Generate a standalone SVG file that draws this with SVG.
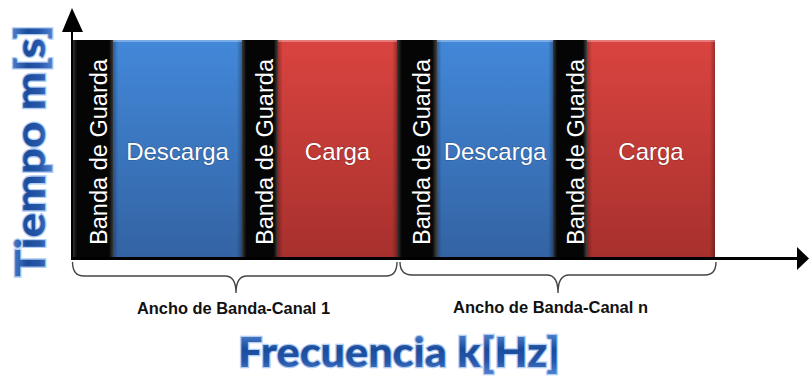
<svg xmlns="http://www.w3.org/2000/svg" width="809" height="377" viewBox="0 0 809 377">
<defs>
  <linearGradient id="gBlue" x1="0" y1="0" x2="0" y2="1">
    <stop offset="0" stop-color="#4288d9"/>
    <stop offset="1" stop-color="#3363a3"/>
  </linearGradient>
  <linearGradient id="gRed" x1="0" y1="0" x2="0" y2="1">
    <stop offset="0" stop-color="#da4440"/>
    <stop offset="1" stop-color="#a7302d"/>
  </linearGradient>
  <linearGradient id="gBlack" x1="0" y1="0" x2="1" y2="0">
    <stop offset="0" stop-color="#3a3a3a"/>
    <stop offset="0.12" stop-color="#050505"/>
    <stop offset="0.88" stop-color="#050505"/>
    <stop offset="1" stop-color="#444"/>
  </linearGradient>
  <linearGradient id="gEdge" x1="0" y1="0" x2="1" y2="0">
    <stop offset="0" stop-color="#000" stop-opacity="0.3"/>
    <stop offset="0.04" stop-color="#000" stop-opacity="0"/>
    <stop offset="0.96" stop-color="#000" stop-opacity="0"/>
    <stop offset="1" stop-color="#000" stop-opacity="0.3"/>
  </linearGradient>
  <linearGradient id="gTitle" x1="0" y1="0" x2="0" y2="1">
    <stop offset="0" stop-color="#6396de"/>
    <stop offset="0.45" stop-color="#1b4c9c"/>
    <stop offset="0.7" stop-color="#2556a8"/>
    <stop offset="1" stop-color="#5588d6"/>
  </linearGradient>
</defs>
<style>
  .blue { fill: url(#gBlue); }
  .red { fill: url(#gRed); }
  .black { fill: url(#gBlack); }
  .edge { fill: url(#gEdge); }
  .hl { fill: #ffffff; fill-opacity: 0.3; }
  .lbl { font-family: "Liberation Sans", Arial, sans-serif; font-size: 24px; fill: #ffffff; text-anchor: middle; stroke: #000; stroke-opacity: 0.25; stroke-width: 1.2px; paint-order: stroke; }
  .guard { font-family: "Liberation Sans", Arial, sans-serif; font-size: 23.5px; fill: #ffffff; text-anchor: middle; }
  .cap { font-family: "Liberation Sans", Arial, sans-serif; font-size: 16px; font-weight: bold; fill: #111; text-anchor: middle; }
  .title { font-family: Lato, "Open Sans", sans-serif; font-size: 41px; font-weight: 900; fill: url(#gTitle); stroke: #b3cdf3; stroke-width: 2.5px; paint-order: stroke; text-anchor: middle; }
  .brace { fill: none; stroke: #444; stroke-width: 1.4px; }
  .axis { stroke: #000; fill: none; }
</style>

<g id="guard1">
  <rect class="black" x="72" y="40" width="42" height="218"/>
  <text class="guard" transform="translate(107,152) rotate(-90)" textLength="186" lengthAdjust="spacingAndGlyphs">Banda de Guarda</text>
</g>
<g id="descarga1">
  <rect class="blue" x="113" y="40" width="129" height="218"/>
  <rect class="edge" x="113" y="40" width="129" height="218"/>
  <rect class="hl" x="113" y="40" width="129" height="2"/>
  <text class="lbl" x="177.5" y="160">Descarga</text>
</g>
<g id="guard2">
  <rect class="black" x="242" y="40" width="36" height="218"/>
  <text class="guard" transform="translate(273,152) rotate(-90)" textLength="186" lengthAdjust="spacingAndGlyphs">Banda de Guarda</text>
</g>
<g id="carga1">
  <rect class="red" x="278" y="40" width="119" height="218"/>
  <rect class="edge" x="278" y="40" width="119" height="218"/>
  <rect class="hl" x="278" y="40" width="119" height="2"/>
  <text class="lbl" x="337.5" y="160">Carga</text>
</g>
<g id="guard3">
  <rect class="black" x="397" y="40" width="40" height="218"/>
  <text class="guard" transform="translate(430,152) rotate(-90)" textLength="186" lengthAdjust="spacingAndGlyphs">Banda de Guarda</text>
</g>
<g id="descarga2">
  <rect class="blue" x="437" y="40" width="116" height="218"/>
  <rect class="edge" x="437" y="40" width="116" height="218"/>
  <rect class="hl" x="437" y="40" width="116" height="2"/>
  <text class="lbl" x="495" y="160">Descarga</text>
</g>
<g id="guard4">
  <rect class="black" x="553" y="40" width="34" height="218"/>
  <text class="guard" transform="translate(584,152) rotate(-90)" textLength="186" lengthAdjust="spacingAndGlyphs">Banda de Guarda</text>
</g>
<g id="carga2">
  <rect class="red" x="587" y="40" width="128" height="218"/>
  <rect class="edge" x="587" y="40" width="128" height="218"/>
  <rect class="hl" x="587" y="40" width="128" height="2"/>
  <text class="lbl" x="651" y="160">Carga</text>
</g>

<g id="connectors">
  <line class="axis" x1="72" y1="258" x2="72" y2="30" stroke="#333" stroke-width="2"/>
  <polygon points="72,8 62,32 83,32" fill="#000"/>
  <line class="axis" x1="71" y1="258.5" x2="798" y2="258.5" stroke-width="3"/>
  <polygon points="809,258.5 797,247 797,270" fill="#000"/>
  <path class="brace" d="M72.5,262 Q72.5,276 84,276 L225,276 Q236,276 236,293 Q236,276 247,276 L386,276 Q397,276 397,262"/>
  <path class="brace" d="M400,262 Q400,275 412,275 L547,275 Q558,275 558,293 Q558,275 569,275 L705,275 Q716,275 716,262"/>
</g>

<g id="label-canal1">
  <text class="cap" x="233.5" y="314" textLength="193" lengthAdjust="spacingAndGlyphs">Ancho de Banda-Canal 1</text>
</g>
<g id="label-canaln">
  <text class="cap" x="550.5" y="313" textLength="195" lengthAdjust="spacingAndGlyphs">Ancho de Banda-Canal n</text>
</g>
<g id="axis-x-title">
  <text class="title" x="399" y="367" textLength="322" lengthAdjust="spacingAndGlyphs">Frecuencia k[Hz]</text>
</g>
<g id="axis-y-title">
  <text class="title" transform="translate(45,151) rotate(-90)" textLength="252" lengthAdjust="spacingAndGlyphs">Tiempo m[s]</text>
</g>
</svg>
